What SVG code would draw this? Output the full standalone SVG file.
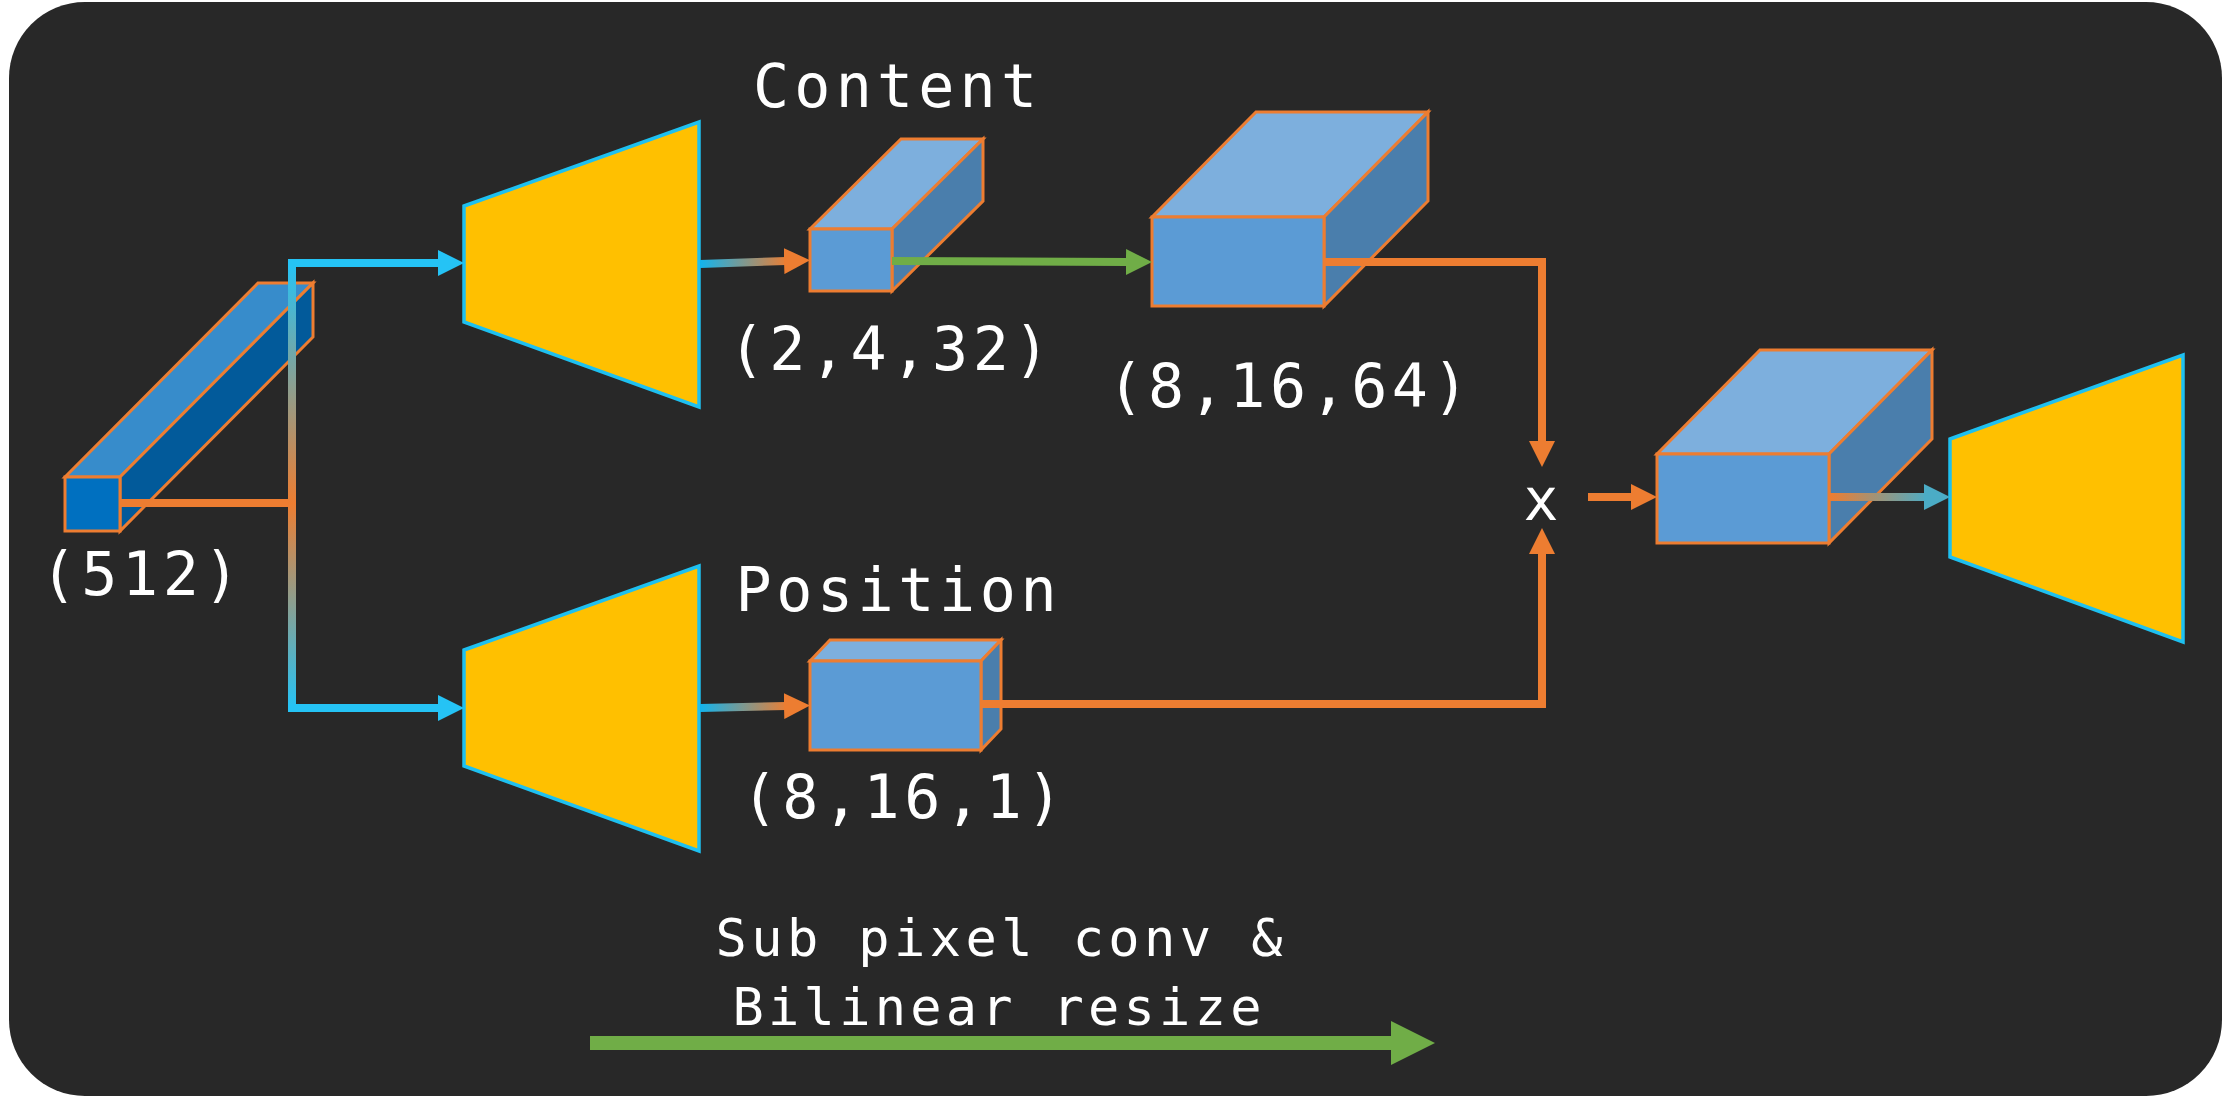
<svg xmlns="http://www.w3.org/2000/svg" width="2225" height="1098" viewBox="0 0 2225 1098">
<style>
.lbl{font-family:"DejaVu Sans Mono","Liberation Mono",monospace;fill:#ffffff;font-size:60px;text-anchor:middle}
.sm{font-size:52px}
.front{fill:#5B9BD5;stroke:#ED7D31;stroke-width:3;stroke-linejoin:miter}
.top{fill:#7DAFDD;stroke:#ED7D31;stroke-width:3;stroke-linejoin:miter}
.side{fill:#4A7EAC;stroke:#ED7D31;stroke-width:3;stroke-linejoin:miter}
.trap{fill:#FFC000;stroke:#1EC0F0;stroke-width:3.5}
.ln{fill:none;stroke-width:8}
.or{stroke:#ED7D31}
.bl{stroke:#25C3F5}
.gr{stroke:#70AD47}
</style>
<defs>
<marker id="aO" markerUnits="userSpaceOnUse" markerWidth="26" markerHeight="26" refX="2" refY="13" orient="auto" viewBox="0 0 26 26"><path d="M0,0 L26,13 L0,26 z" fill="#ED7D31"/></marker>
<marker id="aB" markerUnits="userSpaceOnUse" markerWidth="26" markerHeight="26" refX="2" refY="13" orient="auto" viewBox="0 0 26 26"><path d="M0,0 L26,13 L0,26 z" fill="#25C3F5"/></marker>
<marker id="aG" markerUnits="userSpaceOnUse" markerWidth="26" markerHeight="26" refX="2" refY="13" orient="auto" viewBox="0 0 26 26"><path d="M0,0 L26,13 L0,26 z" fill="#70AD47"/></marker>
<marker id="aT" markerUnits="userSpaceOnUse" markerWidth="26" markerHeight="26" refX="2" refY="13" orient="auto" viewBox="0 0 26 26"><path d="M0,0 L26,13 L0,26 z" fill="#4BACC6"/></marker>
<linearGradient id="gV" gradientUnits="userSpaceOnUse" x1="0" y1="263" x2="0" y2="708">
<stop offset="0" stop-color="#25C3F5"/><stop offset="0.54" stop-color="#ED7D31"/><stop offset="1" stop-color="#25C3F5"/>
</linearGradient>
<linearGradient id="gBO" gradientUnits="userSpaceOnUse" x1="700" y1="0" x2="788" y2="0">
<stop offset="0" stop-color="#12B4EE"/><stop offset="1" stop-color="#ED7D31"/>
</linearGradient>
<linearGradient id="gOT" gradientUnits="userSpaceOnUse" x1="1830" y1="0" x2="1928" y2="0">
<stop offset="0" stop-color="#ED7D31"/><stop offset="1" stop-color="#4BACC6"/>
</linearGradient>
</defs>

<rect x="0" y="0" width="2225" height="1098" fill="#ffffff"/>
<rect id="background" x="9" y="2" width="2213" height="1094" rx="76" ry="76" fill="#282828"/>

<g id="vector512">
<polygon points="65,477 258,283 313,283 120,477" style="fill:#378CCB;stroke:#ED7D31;stroke-width:3"/>
<polygon points="120,477 313,283 313,337 120,531" style="fill:#025A9A;stroke:#ED7D31;stroke-width:3"/>
<rect x="65" y="477" width="55" height="54" style="fill:#0070C0;stroke:#ED7D31;stroke-width:3"/>
<text class="lbl" x="140" y="595" textLength="199" lengthAdjust="spacing">(512)</text>
</g>

<g id="encoderContent">
<polygon class="trap" points="464,206 699,122 699,407 464,322"/>
</g>
<g id="encoderPosition">
<polygon class="trap" points="464,650 699,566 699,851 464,766"/>
</g>
<g id="decoder">
<polygon class="trap" points="1950,439 2183,355 2183,642 1950,557"/>
</g>

<g id="content">
<text class="lbl" x="895" y="107" textLength="284" lengthAdjust="spacing">Content</text>
<polygon class="top" points="810,229 901,139 983,139 892,229"/>
<polygon class="side" points="892,229 983,139 983,201 892,291"/>
<rect class="front" x="810" y="229" width="82" height="62"/>
<text class="lbl" x="889" y="370" textLength="321" lengthAdjust="spacing">(2,4,32)</text>
</g>

<g id="contentUp">
<polygon class="top" points="1152,217 1256,112 1428,112 1324,217"/>
<polygon class="side" points="1324,217 1428,112 1428,201 1324,306"/>
<rect class="front" x="1152" y="217" width="172" height="89"/>
<text class="lbl" x="1288" y="407" textLength="361" lengthAdjust="spacing">(8,16,64)</text>
</g>

<g id="position">
<text class="lbl" x="896" y="611" textLength="321" lengthAdjust="spacing">Position</text>
<polygon class="top" points="810,661 830,640 1001,640 981,661"/>
<polygon class="side" points="981,661 1001,640 1001,729 981,750"/>
<rect class="front" x="810" y="661" width="171" height="89"/>
<text class="lbl" x="902" y="818" textLength="321" lengthAdjust="spacing">(8,16,1)</text>
</g>

<g id="multiply">
<text class="lbl" x="1541" y="520" style="font-size:58px">x</text>
</g>

<g id="product">
<polygon class="top" points="1657,454 1760,350 1932,350 1829,454"/>
<polygon class="side" points="1829,454 1932,350 1932,439 1829,543"/>
<rect class="front" x="1657" y="454" width="172" height="89"/>
</g>

<g id="legend">
<text class="lbl sm" x="999" y="956" textLength="567" lengthAdjust="spacing">Sub pixel conv &amp;</text>
<text class="lbl sm" x="997" y="1025" textLength="529" lengthAdjust="spacing">Bilinear resize</text>
<line x1="590" y1="1043" x2="1393" y2="1043" stroke="#70AD47" stroke-width="14"/>
<polygon points="1391,1021 1435,1043 1391,1065" fill="#70AD47"/>
</g>

<g id="connectors">
<line class="ln or" x1="120" y1="503" x2="292" y2="503"/>
<line class="ln" x1="292" y1="259" x2="292" y2="712" stroke="url(#gV)"/>
<path class="ln bl" d="M288,263 H440" marker-end="url(#aB)"/>
<path class="ln bl" d="M288,708 H440" marker-end="url(#aB)"/>
<line class="ln" x1="700" y1="264" x2="786" y2="261" stroke="url(#gBO)" marker-end="url(#aO)"/>
<line class="ln" x1="700" y1="708" x2="786" y2="706" stroke="url(#gBO)" marker-end="url(#aO)"/>
<line class="ln gr" x1="892" y1="261" x2="1128" y2="262" marker-end="url(#aG)"/>
<path class="ln or" d="M1324,262 H1542 V443" marker-end="url(#aO)"/>
<path class="ln or" d="M981,704 H1542 V552" marker-end="url(#aO)"/>
<line class="ln or" x1="1588" y1="497" x2="1633" y2="497" marker-end="url(#aO)"/>
<line class="ln" x1="1829" y1="497" x2="1926" y2="497" stroke="url(#gOT)" marker-end="url(#aT)"/>
</g>
</svg>
